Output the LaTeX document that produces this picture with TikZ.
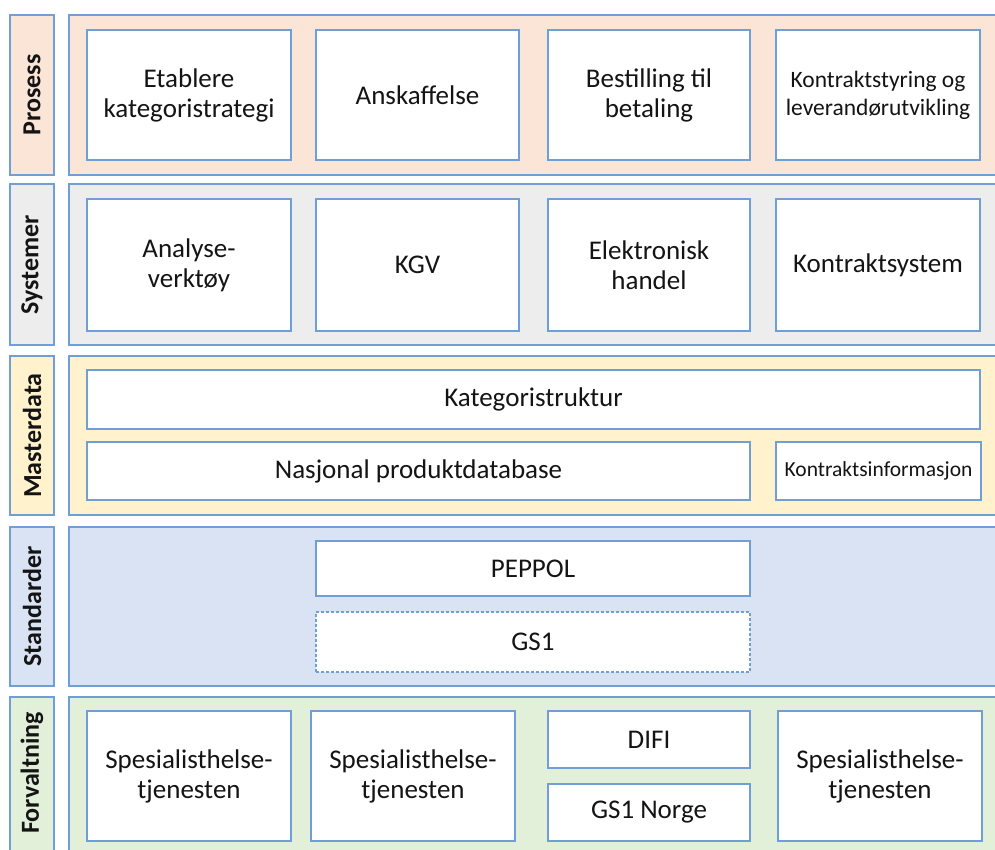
\documentclass[tikz,border=0pt]{standalone}
\usepackage{fontspec}
\setmainfont{Carlito}
\definecolor{edge}{RGB}{112,158,214}
\definecolor{fprosess}{RGB}{251,229,214}
\definecolor{fsystem}{RGB}{237,237,237}
\definecolor{fmaster}{RGB}{255,242,204}
\definecolor{fstandard}{RGB}{218,227,243}
\definecolor{fforvalt}{RGB}{226,240,217}
\definecolor{txt}{RGB}{20,20,20}
\tikzset{
  band/.style={draw=edge, line width=1.5pt, rectangle, inner sep=0pt},
  lanelabel/.style={band},
  lanetext/.style={rotate=90, text=txt, font=\fontsize{26}{28}\selectfont\bfseries},
  box/.style={draw=edge, fill=white, line width=1.5pt, rectangle, inner sep=2pt,
    align=center, text=txt, font=\fontsize{27}{30}\selectfont},
  midbox/.style={box, font=\fontsize{23.5}{28}\selectfont},
  smallbox/.style={box, font=\fontsize{21.5}{26}\selectfont},
}
% place a rectangle node from its corners (x1,y1)-(x2,y2)
\newcommand{\rbox}[7]{%
  \node[#1, minimum width={#4-#2}, minimum height={#5-#3}] (#6)
    at ({(#2+#4)/2},{(#3+#5)/2}) {#7};}
\begin{document}
\begin{tikzpicture}[x=1pt, y=-1pt]
\useasboundingbox (0,0) rectangle (995,849);
% background lanes
\rbox{band, fill=fprosess}{69}{15}{1005}{175}{bandP}{}
\rbox{band, fill=fsystem}{69}{184}{1005}{345}{bandS}{}
\rbox{band, fill=fmaster}{69}{356}{1005}{515}{bandM}{}
\rbox{band, fill=fstandard}{69}{527}{1005}{686}{bandT}{}
\rbox{band, fill=fforvalt}{69}{697}{1005}{870}{bandF}{}
% lane titles
\rbox{lanelabel, fill=fprosess}{10}{15}{54}{175}{labP}{}
\rbox{lanelabel, fill=fsystem}{10}{184}{54}{345}{labS}{}
\rbox{lanelabel, fill=fmaster}{10}{356}{54}{515}{labM}{}
\rbox{lanelabel, fill=fstandard}{10}{527}{54}{686}{labT}{}
\rbox{lanelabel, fill=fforvalt}{10}{697}{54}{870}{labF}{}
\node[lanetext] (tP) at (labP.center) {Prosess};
\node[lanetext] (tS) at (labS.center) {Systemer};
\node[lanetext] (tM) at (labM.center) {Masterdata};
\node[lanetext] (tT) at (labT.center) {Standarder};
\node[lanetext] (tF) at (32,773) {Forvaltning};
% Prosess
\rbox{box}{87}{30}{291}{160}{p1}{Etablere\\kategoristrategi}
\rbox{box}{316}{30}{519}{160}{p2}{Anskaffelse}
\rbox{box}{548}{30}{750}{160}{p3}{Bestilling til\\betaling}
\rbox{midbox}{776}{30}{980}{160}{p4}{Kontraktstyring og\\leverandørutvikling}
% Systemer
\rbox{box}{87}{199}{291}{331}{s1}{Analyse-\\verktøy}
\rbox{box}{316}{199}{519}{331}{s2}{KGV}
\rbox{box}{548}{199}{750}{331}{s3}{Elektronisk\\handel}
\rbox{box}{776}{199}{980}{331}{s4}{Kontraktsystem}
% Masterdata
\rbox{box}{87}{370}{980}{429}{m1}{Kategoristruktur}
\rbox{box}{87}{442}{750}{500}{m2}{Nasjonal produktdatabase}
\rbox{smallbox}{776}{442}{981}{500}{m3}{Kontraktsinformasjon}
% Standarder
\rbox{box}{316}{541}{750}{596}{t1}{PEPPOL}
\rbox{box, dash pattern=on 3pt off 2pt}{316}{612}{750}{672}{t2}{GS1}
% Forvaltning
\rbox{box}{87}{711}{291}{841}{f1}{Spesialisthelse-\\tjenesten}
\rbox{box}{311}{711}{515}{841}{f2}{Spesialisthelse-\\tjenesten}
\rbox{box}{548}{711}{750}{768}{f3}{DIFI}
\rbox{box}{548}{784}{750}{841}{f4}{GS1 Norge}
\rbox{box}{778}{711}{982}{841}{f5}{Spesialisthelse-\\tjenesten}
\end{tikzpicture}
\end{document}
